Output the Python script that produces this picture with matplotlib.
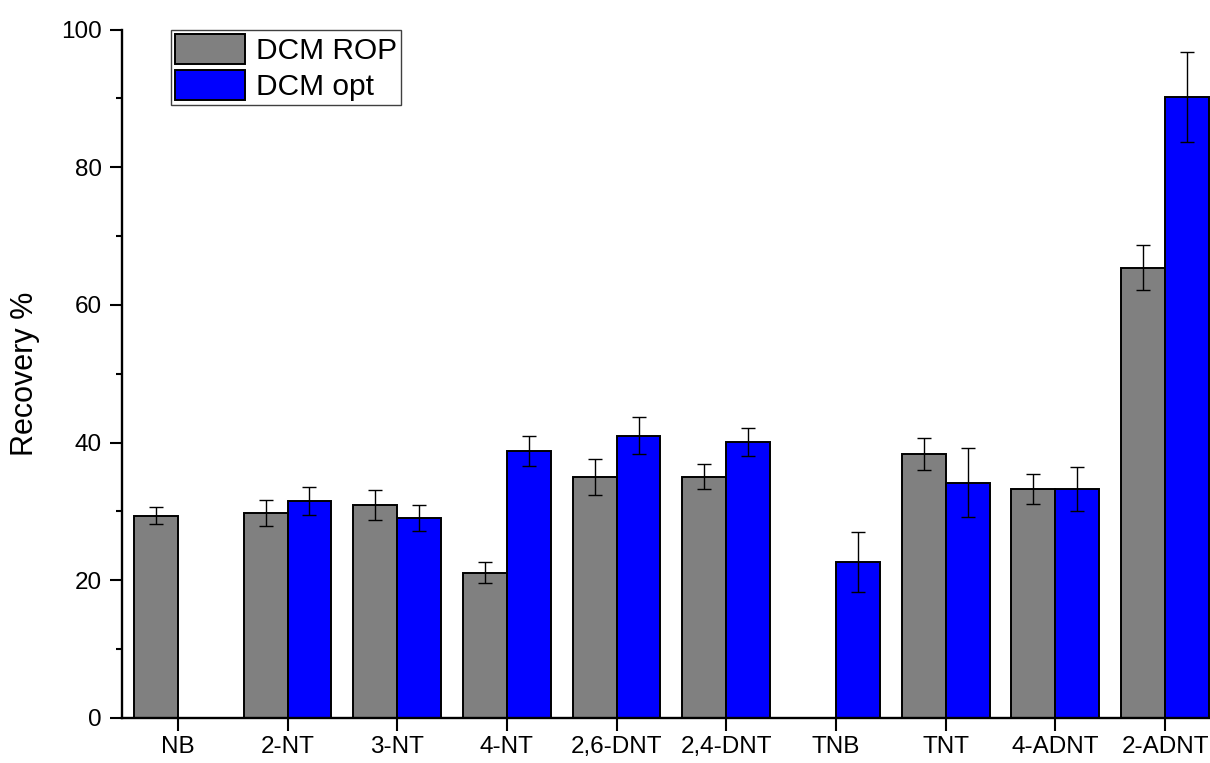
import numpy as np
import matplotlib
matplotlib.use('Agg')
import matplotlib.pyplot as plt

plt.rcParams['font.family'] = ['Liberation Sans', 'DejaVu Sans']

# Daten
compounds = ['NB', '2-NT', '3-NT', '4-NT', '2,6-DNT', '2,4-DNT', 'TNB', 'TNT', '4-ADNT', '2-ADNT']
rop_mean = [29.4, 29.8, 30.9, 21.1, 35.0, 35.05, np.nan, 38.3, 33.3, 65.4]
rop_err = [1.2, 1.9, 2.2, 1.5, 2.65, 1.8, np.nan, 2.35, 2.2, 3.3]
opt_mean = [np.nan, 31.5, 29.1, 38.8, 41.0, 40.1, 22.6, 34.2, 33.2, 90.2]
opt_err = [np.nan, 2.05, 1.9, 2.2, 2.7, 2.0, 4.35, 4.95, 3.2, 6.6]
series_labels = ['DCM ROP', 'DCM opt']

x = np.arange(len(compounds))
w = 0.4

fig = plt.figure(figsize=(12.1, 7.63), dpi=100)
ax = fig.add_axes([0.1012, 0.059, 0.8988, 0.9023])

err_kw = dict(ecolor='black', elinewidth=1.0, capsize=4.7, capthick=1.0)
ax.bar(x - w/2, rop_mean, w, yerr=rop_err, color='#808080', edgecolor='black',
       linewidth=1.4, label=series_labels[0], error_kw=err_kw)
ax.bar(x + w/2, opt_mean, w, yerr=opt_err, color='#0000FF', edgecolor='black',
       linewidth=1.4, label=series_labels[1], error_kw=err_kw)

ax.set_xlim(-0.505, 9.41)
ax.set_ylim(0, 100)
ax.set_xticks(x)
ax.set_xticklabels(compounds, fontsize=17.5)
ax.set_yticks(np.arange(0, 101, 20))
ax.set_yticks(np.arange(10, 100, 20), minor=True)
ax.tick_params(axis='y', labelsize=17.5, pad=6)
ax.tick_params(axis='x', pad=4)
ax.tick_params(which='major', direction='out', length=9, width=1.5)
ax.tick_params(which='minor', direction='out', length=4.5, width=1.5)

for s in ['top', 'right']:
    ax.spines[s].set_visible(False)
for s in ['left', 'bottom']:
    ax.spines[s].set_linewidth(1.7)

ax.set_ylabel('Recovery %', fontsize=22)
ax.yaxis.set_label_coords(-0.076, 0.5)

leg = ax.legend(loc='upper left', bbox_to_anchor=(0.0443, 1.0), borderaxespad=0,
                fontsize=21.5, handlelength=2.35, handleheight=1.15, handletextpad=0.35,
                labelspacing=0.17, borderpad=0.15, fancybox=False, framealpha=1)
leg.get_frame().set_edgecolor('#404040')
leg.get_frame().set_linewidth(1.0)

fig.savefig('out.png', dpi=100)
